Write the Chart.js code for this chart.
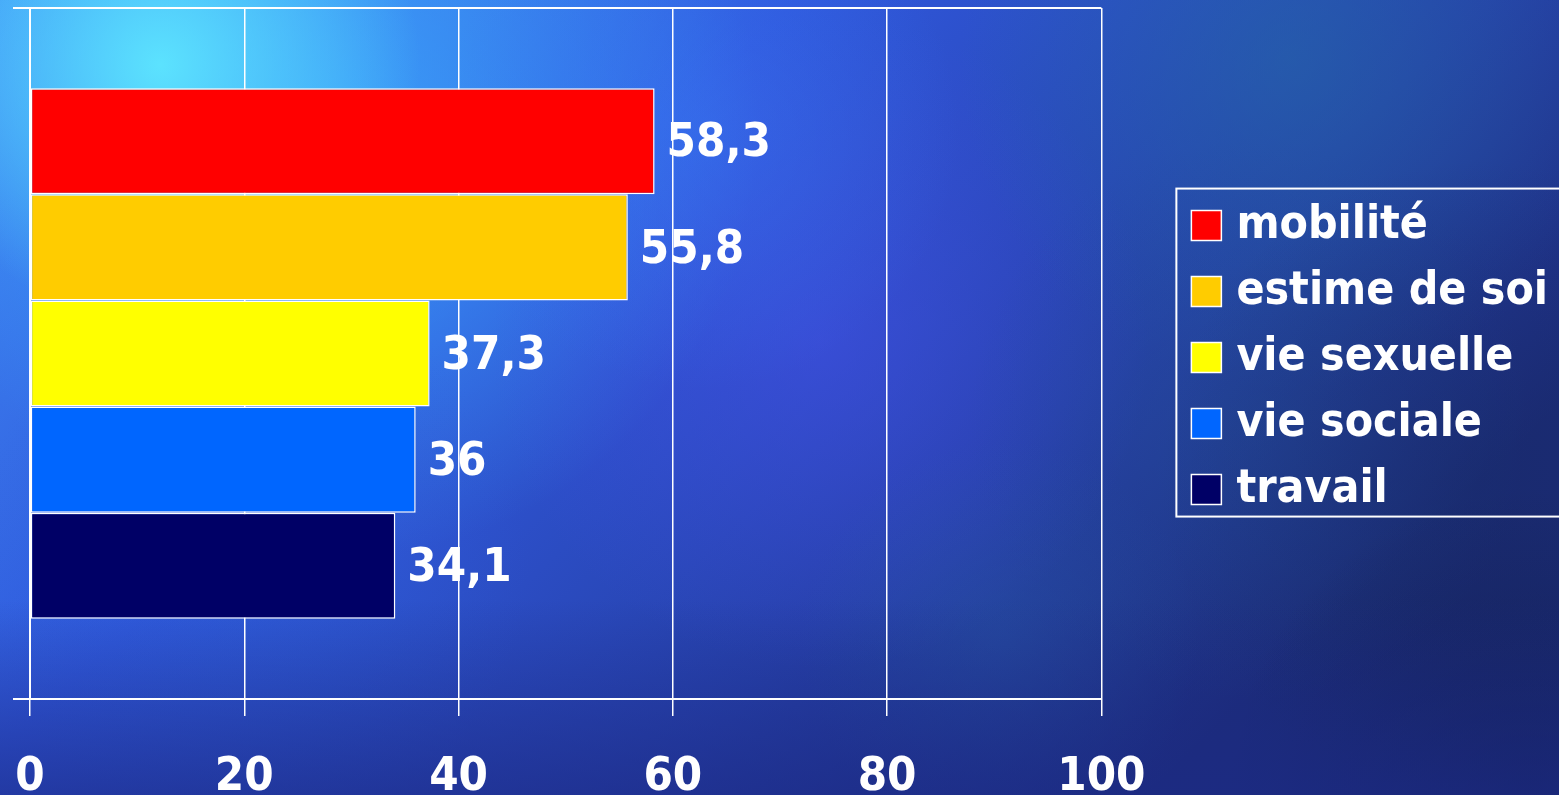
<!DOCTYPE html>
<html>
<head>
<meta charset="utf-8">
<script src="https://cdn.jsdelivr.net/npm/chart.js@4.4.1/dist/chart.umd.min.js"></script>
<style>
  html, body { margin: 0; padding: 0; overflow: hidden; background: #1b2d86; }
  #wrap { width: 1559px; height: 795px; }
  canvas { display: block; }
</style>
</head>
<body>
<div id="wrap"><canvas id="chart" width="1559" height="795"></canvas></div>
<script>
// Single group of bars, one per domain
const categories = [''];
const seriesNames = ['mobilité', 'estime de soi', 'vie sexuelle', 'vie sociale', 'travail'];
const seriesValues = [58.3, 55.8, 37.3, 36, 34.1];
const seriesColors = ['#ff0000', '#ffcc00', '#ffff00', '#0066ff', '#000066'];
const xTickValues = [0, 20, 40, 60, 80, 100];

const FONT_FAMILY = "'DejaVu Sans Condensed', 'DejaVu Sans', sans-serif";
const VALUE_FONT_SIZE = 47;
const LEGEND_FONT_SIZE = 46;

// Slide-style textured blue backdrop
const backdrop = {
  id: 'backdrop',
  beforeDraw(chart) {
    const { ctx, width: w, height: h } = chart;
    ctx.save();
    const base = ctx.createLinearGradient(0, 0, w * 0.6, h * 1.25);
    base.addColorStop(0, '#3f8ef6');
    base.addColorStop(0.4, '#3058dc');
    base.addColorStop(0.75, '#2640a8');
    base.addColorStop(1, '#1c2c78');
    ctx.fillStyle = base;
    ctx.fillRect(0, 0, w, h);
    const spots = [
      [330, 130, 430, 'rgba(60,175,255,0.75)'],
      [160, 65, 260, 'rgba(95,235,255,0.9)'],
      [820, 340, 330, 'rgba(70,80,236,0.5)'],
      [700, 130, 260, 'rgba(55,120,245,0.45)'],
      [250, 560, 280, 'rgba(45,100,220,0.4)'],
      [1290, 60, 330, 'rgba(35,110,165,0.5)'],
      [1250, 420, 280, 'rgba(35,80,150,0.45)'],
      [1480, 480, 320, 'rgba(22,40,100,0.45)'],
      [1530, 790, 300, 'rgba(16,26,70,0.6)'],
      [1000, 640, 200, 'rgba(40,95,170,0.35)']
    ];
    for (const [x, y, r, c] of spots) {
      const g = ctx.createRadialGradient(x, y, 0, x, y, r);
      g.addColorStop(0, c);
      g.addColorStop(1, c.replace(/[\d.]+\)$/, '0)'));
      ctx.fillStyle = g;
      ctx.fillRect(0, 0, w, h);
    }
    // darker band along the bottom
    const low = ctx.createLinearGradient(0, 600, 0, h);
    low.addColorStop(0, 'rgba(28,42,135,0)');
    low.addColorStop(1, 'rgba(28,42,135,0.65)');
    ctx.fillStyle = low;
    ctx.fillRect(0, 0, w, h);
    ctx.restore();
  }
};

// Value labels to the right of each bar
const valueLabels = {
  id: 'valueLabels',
  afterDatasetsDraw(chart) {
    const { ctx } = chart;
    ctx.save();
    ctx.font = `bold ${VALUE_FONT_SIZE}px ${FONT_FAMILY}`;
    ctx.fillStyle = '#ffffff';
    ctx.textAlign = 'left';
    ctx.textBaseline = 'middle';
    chart.data.datasets.forEach((ds, i) => {
      const meta = chart.getDatasetMeta(i);
      meta.data.forEach((bar, j) => {
        const text = String(ds.data[j]).replace('.', ',');
        ctx.fillText(text, bar.x + 12, bar.y + 3);
      });
    });
    ctx.restore();
  }
};

// Frame around the legend
const legendFrame = {
  id: 'legendFrame',
  afterDraw(chart) {
    const lg = chart.legend;
    if (!lg || !lg.legendHitBoxes || !lg.legendHitBoxes.length) return;
    const hb = lg.legendHitBoxes;
    const ctx = chart.ctx;
    const left = hb[0].left - 23;
    const top = hb[0].top - 14;
    const bottom = hb[hb.length - 1].top + 50;
    ctx.save();
    ctx.strokeStyle = '#ffffff';
    ctx.lineWidth = 2;
    ctx.strokeRect(left, top, chart.width + 10 - left, bottom - top);
    ctx.restore();
  }
};

const datasets = seriesNames.map((name, i) => ({
  label: name,
  data: [seriesValues[i]],
  backgroundColor: seriesColors[i],
  borderColor: '#ffffff',
  borderWidth: 1.5,
  borderSkipped: false,
  barPercentage: 1,
  categoryPercentage: 0.768,
  yAxisID: 'y',
  xAxisID: 'x'
}));

new Chart(document.getElementById('chart'), {
  type: 'bar',
  data: { labels: categories, datasets },
  plugins: [backdrop, valueLabels, legendFrame],
  options: {
    responsive: false,
    animation: false,
    indexAxis: 'y',
    layout: { padding: { left: 13, top: 8, right: 1, bottom: -44 } },
    scales: {
      x: {
        type: 'linear',
        position: 'bottom',
        min: 0,
        max: 100,
        afterBuildTicks(scale) { scale.ticks = xTickValues.map(v => ({ value: v })); },
        ticks: {
          color: '#ffffff',
          font: { family: FONT_FAMILY, size: VALUE_FONT_SIZE, weight: 'bold', lineHeight: 1.98 },
          padding: 15,
          maxRotation: 0
        },
        grid: { color: '#ffffff', lineWidth: 1.5, tickLength: 17, drawTicks: true },
        border: { display: true, color: '#ffffff', width: 2 }
      },
      y: {
        type: 'category',
        position: 'left',
        offset: true,
        ticks: { display: false },
        grid: { color: '#ffffff', lineWidth: 2, tickLength: 17, offset: true },
        border: { display: true, color: '#ffffff', width: 2 }
      },
      gap: {
        type: 'linear',
        axis: 'y',
        position: 'right',
        display: true,
        ticks: { display: false },
        grid: { display: false, drawTicks: false },
        border: { display: false },
        afterFit(scale) { scale.width = 78; }
      }
    },
    plugins: {
      legend: {
        position: 'right',
        fullSize: false,
        align: 'center',
        maxWidth: 700,
        title: { display: true, text: '', padding: { top: 7, bottom: 0 }, font: { size: 1 } },
        labels: {
          color: '#ffffff',
          font: { family: FONT_FAMILY, size: LEGEND_FONT_SIZE, weight: 'bold' },
          usePointStyle: true,
          pointStyle: 'rect',
          boxWidth: 14,
          boxHeight: 30,
          padding: 20
        }
      },
      tooltip: { enabled: false }
    }
  }
});
</script>
</body>
</html>
